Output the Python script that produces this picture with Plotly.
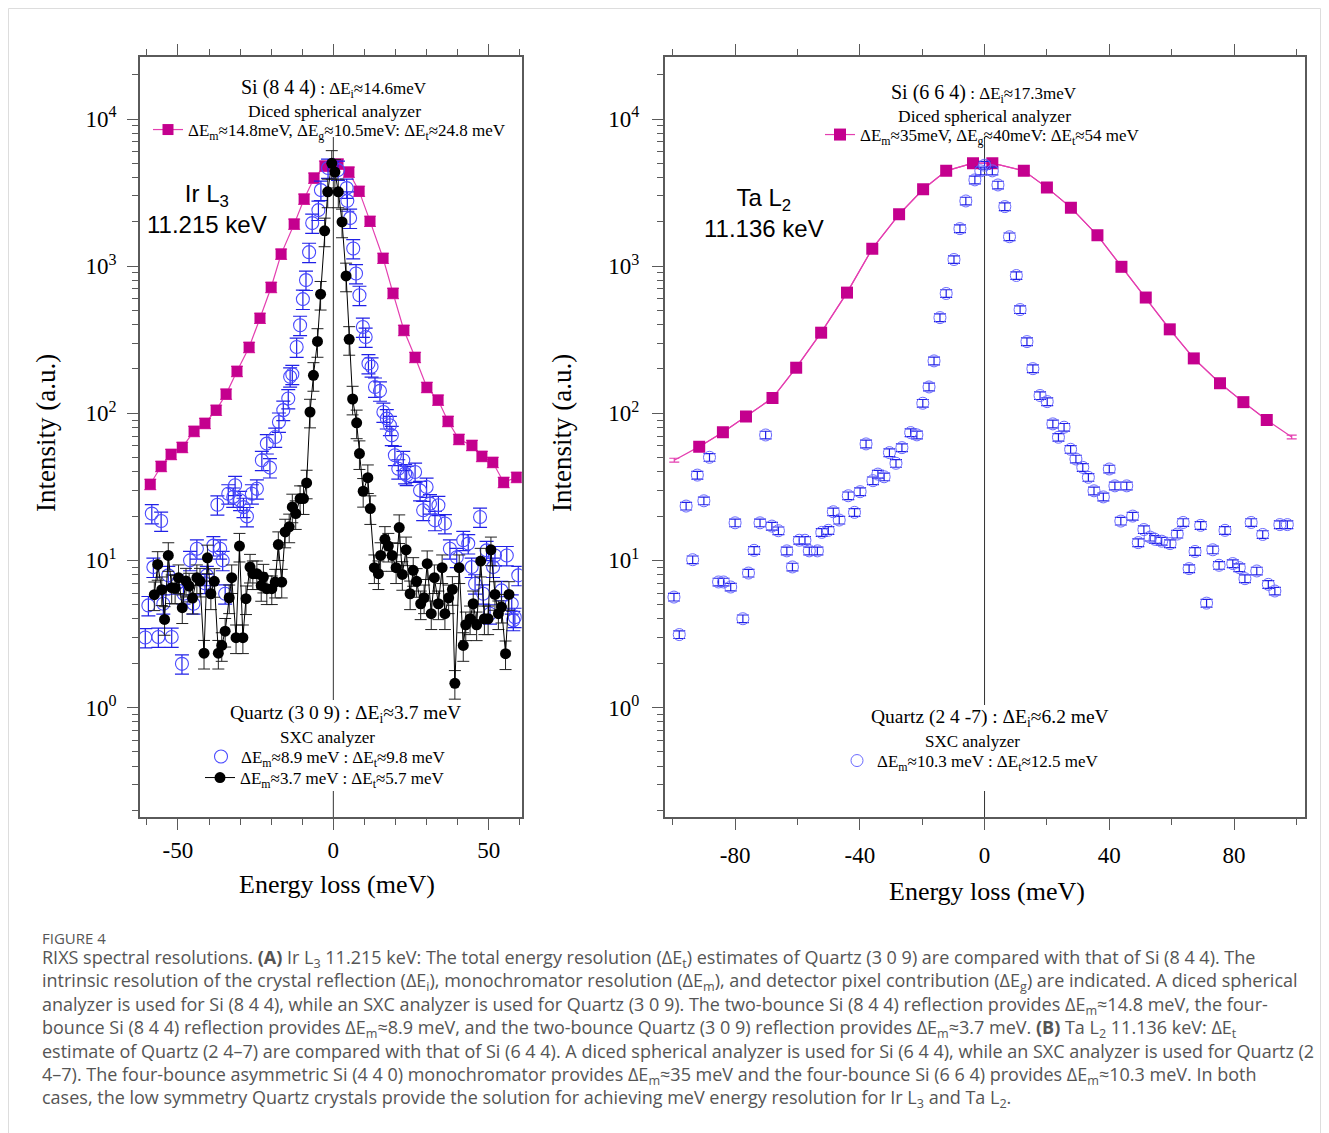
import plotly.graph_objects as go

# The page body adds an 8 px margin; the figure is sized and placed to compensate.
PAGE_OFF = 8
W, H = 1321, 1125
SERIF = "Liberation Serif"
SANS = "Liberation Sans"
CAP = "Open Sans"


def PX(x):
    return (x - PAGE_OFF) / W


def PY(y):
    return 1 - (y - PAGE_OFF) / H


# ---------------- Panel A : Ir L3 11.215 keV ----------------
ir_si_x = [-58.9, -55.4, -52.2, -48.6, -44.8, -41.3, -37.7, -34.5, -31.0, -27.1, -23.6, -20.0,
           -16.8, -12.6, -9.4, -6.2, -2.7, 1.5, 5.0, 8.3, 11.8, 16.0, 19.2, 22.7, 26.3, 30.1,
           33.7, 36.9, 40.4, 44.6, 47.8, 51.3, 54.8, 59.0]
ir_si_y = [32.9, 43.6, 52.6, 58.7, 75.5, 85.5, 105, 135, 193, 281, 443, 719, 1208, 1932, 2858,
           3970, 4790, 4940, 4360, 3236, 2023, 1133, 655, 367, 240, 150, 123, 88.2, 66.5, 60.5,
           51.0, 46.4, 33.9, 36.7]

ir_q4_x = [-60.5, -59.5, -58.4, -57.9, -56.3, -55.4, -54.7, -53.1, -52.0, -50.4,
           -48.7, -48.2, -46.1, -45.0, -43.9, -41.3, -40.7, -38.6, -37.3, -36.4,
           -35.6, -34.8, -33.8, -32.2, -31.6, -30.0, -28.9, -27.8, -26.2, -24.6,
           -23.0, -21.4, -20.4, -18.7, -17.5, -16.1, -14.5, -13.9, -13.2, -11.8,
           -10.7, -9.8, -8.8, -7.8, -6.8, -4.8, -4.0, -1.7, 1.5, 4.3,
           4.5, 5.4, 6.4, 7.3, 8.4, 9.5, 10.4, 11.3, 12.3, 13.4,
           15.0, 16.1, 17.2, 18.2, 18.8, 19.8, 20.9, 22.5, 23.1, 23.6,
           26.3, 27.9, 28.9, 30.0, 31.1, 32.7, 33.8, 35.9, 37.5, 39.7,
           41.8, 43.4, 44.5, 45.6, 47.2, 48.2, 49.3, 50.4, 51.4, 52.0,
           54.1, 55.8, 57.4, 57.9, 58.4, 59.5]
ir_q4_y = [2.99, 4.94, 20.8, 9.0, 3.01, 18.5, 5.07, 7.91, 3.01, 6.94,
           1.98, 5.93, 10.0, 5.07, 12.0, 6.98, 7.91, 12.6, 23.9, 12.0,
           10.0, 5.93, 28.4, 27.0, 32.4, 25.6, 23.0, 19.9, 28.4, 30.7,
           47.9, 62.2, 42.7, 69.0, 87.3, 105, 126, 177, 184, 282,
           397, 597, 804, 1245, 1963, 2404, 3289, 4645, 4500, 3395,
           2780, 2122, 1318, 892, 635, 386, 330, 218, 207, 151,
           142, 102, 92.0, 82.8, 70.8, 51.8, 42.0, 47.9, 38.9, 37.9,
           39.9, 29.9, 21.9, 31.5, 24.3, 18.7, 23.7, 17.8, 12.0, 10.5,
           13.7, 13.0, 9.0, 6.94, 19.7, 5.93, 11.7, 4.34, 9.0, 10.8,
           6.25, 10.8, 5.07, 3.91, 4.11, 7.91]

ir_q2_x = [-57.6, -56.5, -55.2, -54.3, -53.1, -52.0, -50.9, -49.8, -48.6, -47.4,
           -46.4, -45.3, -43.9, -42.9, -41.6, -40.5, -39.4, -38.3, -37.0, -35.9,
           -34.8, -33.5, -32.7, -31.3, -30.2, -29.1, -28.1, -26.8, -25.9, -24.6,
           -23.2, -22.5, -21.4, -19.8, -18.7, -17.7, -16.6, -15.5, -14.2, -13.2,
           -12.1, -10.7, -9.6, -8.6, -7.5, -6.4, -5.1, -4.1, -2.8, -1.8,
           -0.5, 0.5, 1.6, 2.8, 4.1, 5.1, 6.2, 7.5, 8.4, 9.6,
           11.1, 11.9, 13.2, 14.5, 15.2, 16.6, 17.7, 18.9, 20.2, 21.2,
           22.2, 23.4, 24.7, 25.7, 26.8, 28.1, 29.2, 30.2, 31.5, 32.5,
           33.8, 35.0, 35.9, 37.1, 38.3, 39.1, 40.5, 41.8, 42.6, 44.0,
           45.0, 46.1, 47.4, 48.6, 49.8, 50.7, 52.0, 53.1, 54.1, 55.4,
           56.5]
ir_q2_y = [5.84, 9.39, 6.32, 3.97, 10.8, 6.52, 6.48, 7.63, 4.77, 7.23,
           6.69, 5.54, 7.63, 7.23, 2.34, 10.4, 5.93, 7.20, 2.34, 2.64,
           3.30, 5.57, 7.63, 2.98, 12.5, 2.98, 5.49, 9.0, 8.12, 8.12,
           6.76, 7.70, 6.42, 6.42, 7.12, 12.8, 7.12, 15.6, 16.9, 23.1,
           20.8, 26.3, 26.3, 33.6, 102, 181, 308, 645, 1738, 3200,
           5000, 4360, 3200, 2000, 859, 318, 125, 86.1, 53.2, 29.5,
           36.5, 22.5, 8.92, 8.12, 10.8, 13.9, 12.5, 10.8, 8.92, 16.7,
           8.03, 11.8, 5.93, 8.55, 7.20, 5.07, 5.57, 9.5, 4.34, 7.63,
           5.07, 8.92, 4.34, 5.57, 6.35, 1.46, 8.92, 2.64, 3.65, 4.01,
           5.07, 3.65, 9.89, 4.01, 4.01, 11.8, 5.87, 4.34, 4.81, 2.32,
           5.87]

# ---------------- Panel B : Ta L2 11.136 keV ----------------
ta_si_x = [-99.5, -91.5, -83.9, -76.5, -68.0, -60.4, -52.4, -44.1, -36.0, -27.4, -19.7, -12.3,
           -3.7, 2.5, 12.6, 20.0, 27.7, 36.2, 43.9, 51.7, 59.4, 67.1, 75.5, 83.0, 90.5, 98.5]
ta_si_y = [48, 59.3, 74.3, 95, 127, 204, 353, 661, 1315, 2250, 3335, 4445, 5010, 5010, 4445,
           3420, 2500, 1620, 990, 612, 372, 236, 160, 119, 90, 69]

ta_q_x = [-99.6, -97.9, -95.7, -93.6, -92.1, -90.0, -88.2, -85.3, -83.7, -81.4,
          -80.0, -77.5, -75.7, -73.9, -72.0, -70.2, -68.2, -66.1, -63.4, -61.6,
          -59.4, -57.6, -56.2, -53.6, -52.2, -50.1, -48.5, -46.6, -43.7, -41.7,
          -39.9, -38.0, -35.8, -34.2, -32.2, -30.5, -28.4, -26.5, -23.7, -21.7,
          -19.8, -17.8, -16.2, -14.3, -12.3, -9.8, -7.9, -6.0, -3.1, -1.2,
          0.0, 2.5, 4.3, 6.5, 8.0, 10.2, 11.4, 13.6, 15.5, 17.8,
          20.1, 21.9, 23.7, 25.5, 27.6, 29.3, 31.5, 33.3, 35.1, 38.1,
          40.0, 41.8, 43.7, 45.6, 47.5, 49.3, 51.1, 53.1, 54.7, 56.8,
          59.5, 61.8, 63.7, 65.6, 67.5, 69.3, 71.2, 73.2, 75.2, 77.1,
          79.6, 81.7, 83.5, 85.5, 87.3, 89.2, 91.0, 93.1, 94.7, 97.1]
ta_q_y = [5.63, 3.13, 23.4, 10.1, 38.0, 25.4, 50.2, 7.13, 7.13, 6.59,
          18.0, 4.01, 8.2, 11.7, 18.0, 71.2, 17.1, 15.9, 11.6, 9.02,
          13.7, 13.7, 11.6, 11.6, 15.5, 16.0, 21.4, 18.8, 27.5, 21.2,
          29.3, 61.9, 34.8, 38.6, 37.0, 54.0, 45.7, 58.4, 73.9, 71.3,
          117, 151, 227, 447, 652, 1110, 1800, 2775, 3860, 4445,
          4860, 4445, 3565, 2540, 1585, 864, 507, 307, 201, 132,
          120, 84.7, 68.7, 80.4, 56.9, 48.9, 42.9, 36.7, 29.7, 27.0,
          41.8, 32.1, 18.5, 32.1, 20.0, 13.2, 16.2, 14.4, 13.9, 13.5,
          13.0, 15.1, 18.1, 8.79, 11.5, 17.3, 5.12, 11.8, 9.26, 16.0,
          9.51, 8.93, 7.51, 18.1, 8.47, 15.0, 6.87, 6.19, 17.5, 17.5]

y_major = [1, 10, 100, 1000, 10000]
y_major_text = ["10<sup>0</sup>", "10<sup>1</sup>", "10<sup>2</sup>", "10<sup>3</sup>", "10<sup>4</sup>"]
y_minor = [m * 10 ** e for e in range(-1, 5) for m in range(2, 10)]
xa_ticks = [-50, 0, 50]
xb_ticks = [-80, -40, 0, 40, 80]

MAG = "#c4008e"
MAGL = "#e43fb0"
BLUE = "#4a4aff"
BLUE_E = "#2020e6"
AX = "#5a5a5a"

fig = go.Figure()

# Panel A traces
fig.add_trace(go.Scatter(
    x=ir_si_x, y=ir_si_y, mode="lines+markers", xaxis="x", yaxis="y", legend="legend",
    name="ΔE<sub>m</sub>≈14.8meV, ΔE<sub>g</sub>≈10.5meV: ΔE<sub>t</sub>≈24.8 meV",
    marker=dict(symbol="square", size=11, color=MAG),
    line=dict(color=MAGL, width=1.2),
    error_y=dict(type="percent", value=8, color=MAGL, thickness=1.2, width=6)))
fig.add_trace(go.Scatter(
    x=ir_q4_x, y=ir_q4_y, mode="markers", xaxis="x", yaxis="y", legend="legend2",
    name="ΔE<sub>m</sub>≈8.9 meV : ΔE<sub>t</sub>≈9.8 meV",
    marker=dict(symbol="circle-open", size=13, color=BLUE, line=dict(width=1.1)),
    error_y=dict(type="percent", value=15, color=BLUE_E, thickness=1.2, width=7)))
fig.add_trace(go.Scatter(
    x=ir_q2_x, y=ir_q2_y, mode="lines+markers", xaxis="x", yaxis="y", legend="legend5",
    name="ΔE<sub>m</sub>≈3.7 meV : ΔE<sub>t</sub>≈5.7 meV",
    marker=dict(symbol="circle", size=11, color="black"),
    line=dict(color="black", width=1),
    error_y=dict(type="percent", value=22, color="#222222", thickness=1, width=6)))

# Panel B traces
fig.add_trace(go.Scatter(
    x=ta_si_x, y=ta_si_y, mode="lines", xaxis="x2", yaxis="y2", showlegend=False,
    line=dict(color=MAGL, width=1.2),
    error_y=dict(type="percent", value=3, color=MAGL, thickness=1.2, width=5)))
fig.add_trace(go.Scatter(
    x=ta_si_x[1:-1], y=ta_si_y[1:-1], mode="lines+markers", xaxis="x2", yaxis="y2", legend="legend3",
    name="ΔE<sub>m</sub>≈35meV, ΔE<sub>g</sub>≈40meV: ΔE<sub>t</sub>≈54 meV",
    marker=dict(symbol="square", size=12, color=MAG),
    line=dict(color=MAGL, width=1.2)))
fig.add_trace(go.Scatter(
    x=ta_q_x, y=ta_q_y, mode="markers", xaxis="x2", yaxis="y2", legend="legend4",
    name="ΔE<sub>m</sub>≈10.3 meV : ΔE<sub>t</sub>≈12.5 meV",
    marker=dict(symbol="circle-open", size=12, color="#6a6aff", line=dict(width=1)),
    error_y=dict(type="percent", value=6, color=BLUE_E, thickness=1.2, width=6)))

tickfont = dict(family=SERIF, size=23, color="black")


def xaxis(domain, rng, ticks, minor_dt, anchor, standoff):
    return dict(domain=domain, range=rng, anchor=anchor, tickmode="array", tickvals=ticks,
                ticktext=[str(t) for t in ticks], showline=True, linecolor=AX, linewidth=1.5,
                mirror="ticks", ticks="outside", ticklen=11, tickwidth=1.2, tickcolor=AX,
                showgrid=False, zeroline=False, tickfont=tickfont, ticklabelstandoff=standoff,
                minor=dict(dtick=minor_dt, tick0=0, ticks="outside", ticklen=6, tickwidth=1.2,
                           tickcolor=AX, showgrid=False))


def yaxis(domain, anchor, standoff):
    return dict(domain=domain, type="log", range=[-0.746, 4.424], anchor=anchor,
                tickmode="array", tickvals=y_major, ticktext=y_major_text,
                showline=True, linecolor=AX, linewidth=1.5, mirror=True,
                ticks="outside", ticklen=11, tickwidth=1.2, tickcolor=AX,
                showgrid=False, zeroline=False, tickfont=tickfont, ticklabelstandoff=standoff,
                minor=dict(tickmode="array", tickvals=y_minor, ticks="outside", ticklen=6,
                           tickwidth=1.2, tickcolor=AX, showgrid=False))


Y_TOP, Y_BOT = 56.7, 817.2
ydom = [PY(Y_BOT), PY(Y_TOP)]


def legend(text_left, ycenter):
    return dict(x=PX(text_left - 42), y=PY(ycenter), xanchor="left", yanchor="middle",
                bgcolor="rgba(255,255,255,0)", borderwidth=0,
                font=dict(family=SERIF, size=17, color="black"), itemwidth=30)


def sp(t, s):
    return '<span style="font-size:%spx">%s</span>' % (s, t)


annotations = []


def ann(text, x, y, size, family=SERIF, color="black", xanchor="center", angle=0,
        align="left"):
    annotations.append(dict(text=text, x=PX(x), y=PY(y), xref="paper", yref="paper",
                            xanchor=xanchor, yanchor="middle", showarrow=False, textangle=angle,
                            align=align, font=dict(family=family, size=size, color=color)))


# legend headers
ann(sp("Si (8 4 4)", 20) + sp(" : ΔE<sub>i</sub>≈14.6meV", 17), 334, 89, 17)
ann("Diced spherical analyzer", 334, 111, 17.5)
ann("Quartz (3 0 9) : ΔE<sub>i</sub>≈3.7 meV", 345, 714, 19.5)
ann("SXC analyzer", 327, 737, 17)
ann(sp("Si (6 6 4)", 20) + sp(" : ΔE<sub>i</sub>≈17.3meV", 17), 984, 93, 17)
ann("Diced spherical analyzer", 984, 116, 17.5)
ann("Quartz (2 4 -7) : ΔE<sub>i</sub>≈6.2 meV", 990, 718, 19.5)
ann("SXC analyzer", 972, 741, 17)

# panel labels
ann("Ir L<sub>3</sub><br>11.215 keV", 207, 209, 24, SANS, align="center")
ann("Ta L<sub>2</sub><br>11.136 keV", 764, 213, 24, SANS, align="center")

# axis titles
ann("Intensity (a.u.)", 46, 433, 27, angle=-90)
ann("Intensity (a.u.)", 562, 433, 27, angle=-90)
ann("Energy loss (meV)", 337, 884, 26)
ann("Energy loss (meV)", 987, 891, 26)

# caption
ann("FIGURE 4", 40, 938, 15, CAP, "#555555", "left")
caption_lines = [
    "RIXS spectral resolutions. <b>(A)</b> Ir L<sub>3</sub> 11.215 keV: The total energy resolution (ΔE<sub>t</sub>) estimates of Quartz (3 0 9) are compared with that of Si (8 4 4). The",
    "intrinsic resolution of the crystal reflection (ΔE<sub>i</sub>), monochromator resolution (ΔE<sub>m</sub>), and detector pixel contribution (ΔE<sub>g</sub>) are indicated. A diced spherical",
    "analyzer is used for Si (8 4 4), while an SXC analyzer is used for Quartz (3 0 9). The two-bounce Si (8 4 4) reflection provides ΔE<sub>m</sub>≈14.8 meV, the four-",
    "bounce Si (8 4 4) reflection provides ΔE<sub>m</sub>≈8.9 meV, and the two-bounce Quartz (3 0 9) reflection provides ΔE<sub>m</sub>≈3.7 meV. <b>(B)</b> Ta L<sub>2</sub> 11.136 keV: ΔE<sub>t</sub>",
    "estimate of Quartz (2 4–7) are compared with that of Si (6 4 4). A diced spherical analyzer is used for Si (6 4 4), while an SXC analyzer is used for Quartz (2",
    "4–7). The four-bounce asymmetric Si (4 4 0) monochromator provides ΔE<sub>m</sub>≈35 meV and the four-bounce Si (6 6 4) provides ΔE<sub>m</sub>≈10.3 meV. In both",
    "cases, the low symmetry Quartz crystals provide the solution for achieving meV energy resolution for Ir L<sub>3</sub> and Ta L<sub>2</sub>.",
]
ann("<br>".join(caption_lines), 40, 1028.5, 18, CAP, "#555555", "left")


def dom(py):
    return (Y_BOT - py) / (Y_BOT - Y_TOP)


shapes = []
for xr, yr, gap_top in (("x", "y domain", 700), ("x2", "y2 domain", 705)):
    shapes.append(dict(type="line", xref=xr, yref=yr, x0=0, x1=0, y0=dom(gap_top), y1=dom(137),
                       line=dict(color="#333333", width=1), layer="below"))
    shapes.append(dict(type="line", xref=xr, yref=yr, x0=0, x1=0, y0=0, y1=dom(791),
                       line=dict(color="#333333", width=1), layer="below"))
shapes.append(dict(type="rect", xref="paper", yref="paper", x0=PX(8.5), x1=PX(1320.5),
                   y0=-0.2, y1=PY(8.5), line=dict(color="#dddddd", width=1), layer="below"))

fig.update_layout(
    width=W, height=H, margin=dict(l=0, r=0, t=0, b=0),
    paper_bgcolor="white", plot_bgcolor="white",
    xaxis=xaxis([PX(140), PX(521.7)], [-62.2, 60.6], xa_ticks, 10, "y", 0),
    yaxis=yaxis(ydom, "x", 6),
    xaxis2=xaxis([PX(664.6), PX(1304.8)], [-102.6, 102.7], xb_ticks, 20, "y2", 5),
    yaxis2=yaxis(ydom, "x2", 8),
    legend=legend(190, 130),
    legend2=legend(243, 757),
    legend5=legend(242, 778),
    legend3=legend(862, 135),
    legend4=legend(879, 761),
    annotations=annotations,
    shapes=shapes,
)

fig.write_html("out.html")
